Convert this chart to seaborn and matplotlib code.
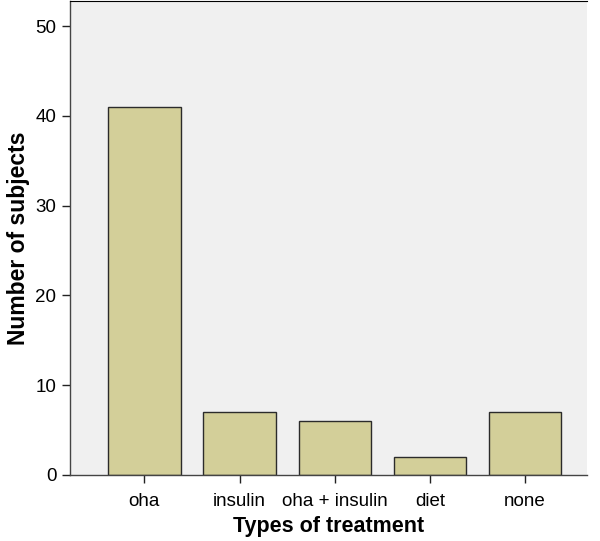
import matplotlib
matplotlib.use("Agg")
import matplotlib.pyplot as plt
import seaborn as sns
import pandas as pd

treatments = ["oha", "insulin", "oha + insulin", "diet", "none"]
subjects = [41, 7, 6, 2, 7]
yticks = [0, 10, 20, 30, 40, 50]

df = pd.DataFrame({"treatment": treatments, "subjects": subjects})

sns.set_style("ticks")
plt.rcParams["font.family"] = ["Liberation Sans", "DejaVu Sans"]

fig = plt.figure(figsize=(6, 5.41), dpi=100)
ax = fig.add_axes([0.117, 0.122, 0.861, 0.876])
ax.set_facecolor("#F0F0F0")

sns.barplot(data=df, x="treatment", y="subjects", ax=ax, color="#D3CF99",
            saturation=1, width=0.76, edgecolor="#2b2b2b", linewidth=1.0)

ax.set_xlim(-0.78, 4.65)
ax.set_ylim(0, 52.8)
ax.set_yticks(yticks)
ax.tick_params(axis="both", labelsize=13.5, length=6, width=1, colors="#222222")
ax.tick_params(axis="x", pad=7)
ax.tick_params(axis="y", pad=4)
ax.tick_params(axis="both", labelcolor="black")

for s in ["left", "bottom"]:
    ax.spines[s].set_color("#444444")
    ax.spines[s].set_linewidth(1)
ax.spines["top"].set_color("black")
ax.spines["right"].set_visible(False)

ax.set_xlabel("Types of treatment", fontsize=15.5, fontweight="bold",
              labelpad=4, color="black")
ax.set_ylabel("Number of subjects", fontsize=16.5, fontweight="bold",
              labelpad=4, color="black")

fig.savefig("out.png", dpi=100)
